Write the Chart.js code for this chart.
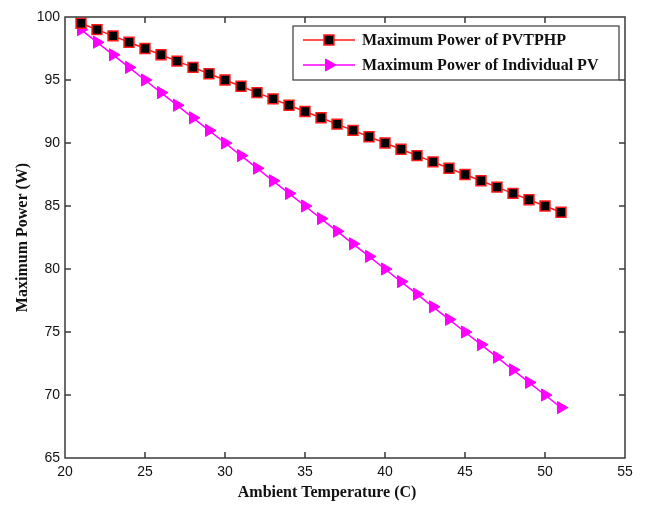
<!DOCTYPE html>
<html>
<head>
<meta charset="utf-8">
<script src="https://cdn.jsdelivr.net/npm/chart.js@4"></script>
<style>
  html, body { margin: 0; padding: 0; background: #fff; }
  #wrap { width: 646px; height: 505px; }
</style>
</head>
<body>
<div id="wrap"><canvas id="powerChart" width="646" height="505"></canvas></div>
<script>
// Ambient temperature (C)
const temps = [21, 22, 23, 24, 25, 26, 27, 28, 29, 30, 31, 32, 33, 34, 35, 36,
               37, 38, 39, 40, 41, 42, 43, 44, 45, 46, 47, 48, 49, 50, 51];
// Maximum power of PVTPHP (W)
const pvtphpPower = [99.5, 99, 98.5, 98, 97.5, 97, 96.5, 96, 95.5, 95, 94.5, 94, 93.5, 93, 92.5, 92,
                     91.5, 91, 90.5, 90, 89.5, 89, 88.5, 88, 87.5, 87, 86.5, 86, 85.5, 85, 84.5];
// Maximum power of individual PV (W)
const pvPower = [99, 98, 97, 96, 95, 94, 93, 92, 91, 90, 89, 88, 87, 86, 85, 84,
                 83, 82, 81, 80, 79, 78, 77, 76, 75, 74, 73, 72, 71, 70, 69];
const seriesLabels = ['Maximum Power of PVTPHP', 'Maximum Power of Individual PV'];
const xTitle = 'Ambient Temperature (C)';
const yTitle = 'Maximum Power (W)';
const xTicks = [20, 25, 30, 35, 40, 45, 50, 55];
const yTicks = [65, 70, 75, 80, 85, 90, 95, 100];

const axisColor = '#3a3a3a';
const serif = "'Liberation Serif', 'Times New Roman', serif";
const tickFont = { family: "'Liberation Sans', Arial, sans-serif", size: 14 };
const titleFont = { family: serif, size: 16, weight: 'bold' };

// box round the plot with inward ticks on all four sides (matlab style)
const boxPlugin = {
    id: 'box',
    afterDatasetsDraw(chart) {
        const ctx = chart.ctx;
        const a = chart.chartArea;
        const xs = chart.scales.x, ys = chart.scales.y;
        const len = 6;
        ctx.save();
        ctx.strokeStyle = axisColor;
        ctx.lineWidth = 1.5;
        ctx.strokeRect(a.left, a.top, a.right - a.left, a.bottom - a.top);
        ctx.beginPath();
        xTicks.slice(1, -1).forEach(v => {
            const px = xs.getPixelForValue(v);
            ctx.moveTo(px, a.bottom); ctx.lineTo(px, a.bottom - len);
            ctx.moveTo(px, a.top); ctx.lineTo(px, a.top + len);
        });
        yTicks.slice(1, -1).forEach(v => {
            const py = ys.getPixelForValue(v);
            ctx.moveTo(a.left, py); ctx.lineTo(a.left + len, py);
            ctx.moveTo(a.right, py); ctx.lineTo(a.right - len, py);
        });
        ctx.stroke();

        // x label sits a bit left of the axis centre in the original
        ctx.fillStyle = '#111';
        ctx.font = 'bold 16px ' + serif;
        ctx.textAlign = 'center';
        ctx.textBaseline = 'middle';
        ctx.fillText(xTitle, a.left + (a.right - a.left) * 0.468, 493);
        ctx.restore();
    }
};

// legend box drawn inside the plot, top right
const legendPlugin = {
    id: 'innerLegend',
    afterDraw(chart) {
        const ctx = chart.ctx;
        const left = 293, top = 26, w = 326, h = 54;
        ctx.save();
        ctx.fillStyle = '#fff';
        ctx.fillRect(left, top, w, h);
        ctx.strokeStyle = axisColor;
        ctx.lineWidth = 1.2;
        ctx.strokeRect(left, top, w, h);
        chart.data.datasets.forEach((ds, i) => {
            const y = top + 14 + i * 25;
            ctx.strokeStyle = ds.borderColor;
            ctx.lineWidth = ds.borderWidth;
            ctx.beginPath();
            ctx.moveTo(left + 10, y);
            ctx.lineTo(left + 62, y);
            ctx.stroke();
            ctx.fillStyle = ds.pointBackgroundColor;
            ctx.strokeStyle = ds.pointBorderColor;
            ctx.lineWidth = ds.pointBorderWidth;
            Chart.helpers.drawPoint(ctx, {
                pointStyle: ds.pointStyle,
                radius: ds.pointRadius,
                rotation: ds.pointRotation,
                borderWidth: ds.pointBorderWidth
            }, left + 36, y);
            ctx.fillStyle = '#111';
            ctx.font = 'bold 16px ' + serif;
            ctx.textAlign = 'left';
            ctx.textBaseline = 'middle';
            ctx.fillText(ds.label, left + 69, y + 1);
        });
        ctx.restore();
    }
};

function createChart() {
    const ctx = document.getElementById('powerChart').getContext('2d');
    new Chart(ctx, {
        type: 'scatter',
        data: {
            datasets: [{
                label: seriesLabels[0],
                data: temps.map((t, i) => ({ x: t, y: pvtphpPower[i] })),
                showLine: true,
                borderColor: '#ff1a1a',
                borderWidth: 1.5,
                pointStyle: 'rect',
                pointRadius: 7,
                pointRotation: 0,
                pointBackgroundColor: '#000',
                pointBorderColor: '#ff1a1a',
                pointBorderWidth: 1.5,
                clip: false
            }, {
                label: seriesLabels[1],
                data: temps.map((t, i) => ({ x: t, y: pvPower[i] })),
                showLine: true,
                borderColor: '#ff00ff',
                borderWidth: 1.5,
                pointStyle: 'triangle',
                pointRadius: 7,
                pointRotation: 90,
                pointBackgroundColor: '#ff00ff',
                pointBorderColor: '#ff00ff',
                pointBorderWidth: 1,
                clip: false
            }]
        },
        options: {
            responsive: false,
            animation: false,
            events: [],
            layout: {
                padding: { left: 0, right: 21, top: 17, bottom: 0 }
            },
            scales: {
                x: {
                    type: 'linear',
                    min: 20,
                    max: 55,
                    afterFit: s => { s.height = 47; },
                    afterBuildTicks: s => { s.ticks = xTicks.map(v => ({ value: v })); },
                    grid: { display: false, drawTicks: false },
                    border: { display: false },
                    ticks: { color: '#111', font: tickFont, padding: 6, maxRotation: 0 },
                    title: { display: false }
                },
                y: {
                    type: 'linear',
                    min: 65,
                    max: 100,
                    afterFit: s => { s.width = 65; },
                    afterBuildTicks: s => { s.ticks = yTicks.map(v => ({ value: v })); },
                    grid: { display: false, drawTicks: false },
                    border: { display: false },
                    ticks: { color: '#111', font: tickFont, padding: 5 },
                    title: {
                        display: true,
                        text: yTitle,
                        color: '#111',
                        font: titleFont,
                        padding: { top: 13, bottom: 0 }
                    }
                }
            },
            plugins: {
                legend: { display: false },
                tooltip: { enabled: false }
            }
        },
        plugins: [boxPlugin, legendPlugin]
    });
}

createChart();
</script>
</body>
</html>
